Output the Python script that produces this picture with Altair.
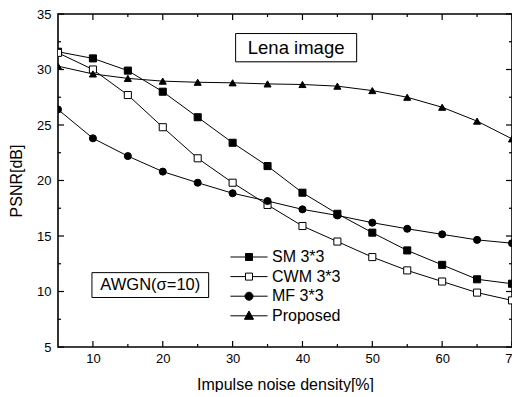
import altair as alt
import pandas as pd

# ---------------- data ----------------
x_vals = [5, 10, 15, 20, 25, 30, 35, 40, 45, 50, 55, 60, 65, 70]
series_names = ["SM 3*3", "CWM 3*3", "MF 3*3", "Proposed"]
sm_vals = [31.6, 31.0, 29.9, 28.0, 25.7, 23.4, 21.3, 18.9, 17.0, 15.3, 13.7, 12.4, 11.1, 10.7]
cwm_vals = [31.5, 30.0, 27.7, 24.8, 22.0, 19.8, 17.8, 15.9, 14.5, 13.1, 11.9, 10.9, 9.9, 9.2]
mf_vals = [26.4, 23.8, 22.2, 20.8, 19.8, 18.85, 18.15, 17.4, 16.85, 16.2, 15.65, 15.15, 14.65, 14.35]
prop_vals = [30.3, 29.6, 29.2, 28.95, 28.85, 28.8, 28.7, 28.65, 28.5, 28.1, 27.5, 26.6, 25.35, 23.75]

x_major = [10, 20, 30, 40, 50, 60, 70]
x_minor = [15, 25, 35, 45, 55, 65]
y_major = [5, 10, 15, 20, 25, 30, 35]
y_minor = [7.5, 12.5, 17.5, 22.5, 27.5, 32.5]

box_labels = ["Lena image", "AWGN(σ=10)"]
box_x1 = [30.43, 9.86]
box_x2 = [47.76, 26.57]
box_y1 = [33.24, 11.70]
box_y2 = [30.69, 9.46]
box_font = [18.5, 16.5]

W, H = 454, 333
X0, X1, Y0, Y1 = 5, 70, 5, 35
MAJ, MIN = 6, 3  # tick lengths in pixels

rows = []
for name, vals in zip(series_names, [sm_vals, cwm_vals, mf_vals, prop_vals]):
    for xv, yv in zip(x_vals, vals):
        rows.append({"x": xv, "y": yv, "series": name})
df = pd.DataFrame(rows)

boxes = pd.DataFrame({
    "label": box_labels, "x1": box_x1, "x2": box_x2, "y1": box_y1, "y2": box_y2,
    "xc": [(a + b) / 2 for a, b in zip(box_x1, box_x2)],
    "yc": [(a + b) / 2 for a, b in zip(box_y1, box_y2)],
    "fs": box_font,
})

FONT = "Liberation Sans"
xs = alt.Scale(domain=[X0, X1], nice=False, zero=False)
ys = alt.Scale(domain=[Y0, Y1], nice=False, zero=False)

marker_shapes = ["square", "square", "circle", "triangle-up"]
marker_fills = ["black", "white", "black", "black"]
legend_paths = [
    "M-5.3,0H5.3M-1,-1H1V1H-1Z",
    "M-5.3,0H-1M1,0H5.3M-1,-1H1V1H-1Z",
    "M-5.3,0H5.3M-1.15,0A1.15,1.15,0,1,0,1.15,0A1.15,1.15,0,1,0,-1.15,0Z",
    "M-5.3,0H5.3M0,-1.35L1.3,1H-1.3Z",
]

# ---------------- data layers ----------------
lines = alt.Chart(df).mark_line(color="black", strokeWidth=1, clip=True).encode(
    x=alt.X("x:Q", scale=xs, axis=None),
    y=alt.Y("y:Q", scale=ys, axis=None),
    detail="series:N",
)

points = alt.Chart(df).mark_point(
    stroke="black", strokeWidth=1, size=50, opacity=1, clip=True
).encode(
    x=alt.X("x:Q", scale=xs, axis=None),
    y=alt.Y("y:Q", scale=ys, axis=None),
    shape=alt.Shape("series:N", scale=alt.Scale(domain=series_names, range=marker_shapes), legend=None),
    fill=alt.Fill("series:N", scale=alt.Scale(domain=series_names, range=marker_fills), legend=None),
)

leg = alt.Legend(
    orient="none", legendX=183, legendY=235, title=None,
    labelFont=FONT, labelFontSize=16, labelColor="black",
    symbolSize=49, symbolStrokeWidth=1, symbolStrokeColor="black",
    labelOffset=15, rowPadding=3.6, padding=0, symbolOpacity=1,
)
legend_layer = alt.Chart(df).transform_filter("false").mark_point(
    stroke="black", strokeWidth=1, opacity=1
).encode(
    shape=alt.Shape("series:N", scale=alt.Scale(domain=series_names, range=legend_paths), legend=leg),
    fill=alt.Fill("series:N", scale=alt.Scale(domain=series_names, range=marker_fills), legend=leg),
    stroke=alt.Stroke("series:N", scale=alt.Scale(domain=series_names, range=["black"] * 4), legend=leg),
)

# ---------------- annotation boxes ----------------
shadow = alt.Chart(boxes).mark_rect(color="black", xOffset=5, yOffset=5).encode(
    x=alt.X("x1:Q", scale=xs, axis=None), x2="x2:Q",
    y=alt.Y("y1:Q", scale=ys, axis=None), y2="y2:Q",
)
box = alt.Chart(boxes).mark_rect(fill="white", stroke="black", strokeWidth=1).encode(
    x=alt.X("x1:Q", scale=xs, axis=None), x2="x2:Q",
    y=alt.Y("y1:Q", scale=ys, axis=None), y2="y2:Q",
)
box_text = alt.Chart(boxes).mark_text(font=FONT, color="black", align="center", baseline="middle").encode(
    x=alt.X("xc:Q", scale=xs, axis=None),
    y=alt.Y("yc:Q", scale=ys, axis=None),
    text="label:N",
    size=alt.Size("fs:Q", scale=None, legend=None),
)

# ---------------- axes (labels) ----------------
ax_df = pd.DataFrame({"x": [X0, X1], "y": [Y0, Y1]})
label_axes = alt.Chart(ax_df).mark_point(opacity=0).encode(
    x=alt.X("x:Q", scale=xs, axis=alt.Axis(
        values=x_major, ticks=False, domain=False, grid=False, labelFlush=False,
        labelOverlap=False, format="d", labelPadding=5, labelFont=FONT, labelFontSize=13,
        labelColor="black", title="Impulse noise density[%]", titleFont=FONT,
        titleFontSize=16, titleFontWeight="normal", titleColor="black", titlePadding=11,
        orient="bottom")),
    y=alt.Y("y:Q", scale=ys, axis=alt.Axis(
        values=y_major, ticks=False, domain=False, grid=False, labelFlush=False,
        labelOverlap=False, format="d", labelPadding=7, labelFont=FONT, labelFontSize=13,
        labelColor="black", title="PSNR[dB]", titleFont=FONT, titleFontSize=16,
        titleFontWeight="normal", titleColor="black", titlePadding=12, orient="left")),
)

# ---------------- inward ticks (placed through the scales) ----------------
ux = (X1 - X0) / W   # data units per pixel along x
uy = (Y1 - Y0) / H   # data units per pixel along y


def xticks(vals, at_bottom, length):
    base = Y0 if at_bottom else Y1
    tip = base + length * uy if at_bottom else base - length * uy
    d = pd.DataFrame({"v": vals, "a": [base] * len(vals), "b": [tip] * len(vals)})
    return alt.Chart(d).mark_rule(color="black", strokeWidth=1.2).encode(
        x=alt.X("v:Q", scale=xs, axis=None),
        y=alt.Y("a:Q", scale=ys, axis=None), y2="b:Q")


def yticks(vals, at_left, length):
    base = X0 if at_left else X1
    tip = base + length * ux if at_left else base - length * ux
    d = pd.DataFrame({"v": vals, "a": [base] * len(vals), "b": [tip] * len(vals)})
    return alt.Chart(d).mark_rule(color="black", strokeWidth=1.2).encode(
        y=alt.Y("v:Q", scale=ys, axis=None),
        x=alt.X("a:Q", scale=xs, axis=None), x2="b:Q")


tick_layers = [
    xticks(x_major, True, MAJ), xticks(x_minor, True, MIN),
    xticks(x_major, False, MAJ), xticks(x_minor, False, MIN),
    yticks(y_major, True, MAJ), yticks(y_minor, True, MIN),
    yticks(y_major, False, MAJ), yticks(y_minor, False, MIN),
]

chart = alt.layer(
    label_axes, lines, points, shadow, box, box_text, legend_layer, *tick_layers
).resolve_axis(
    x="independent", y="independent"
).resolve_scale(
    shape="independent", fill="independent", stroke="independent"
).properties(
    width=W, height=H,
    autosize=alt.AutoSizeParams(type="none"),
    padding={"left": 50, "top": 6, "right": 0, "bottom": 45},
    background="white",
).configure_view(
    stroke="black", strokeWidth=1.6
)

chart.save("out.html", embed_options={"renderer": "svg", "actions": False})
